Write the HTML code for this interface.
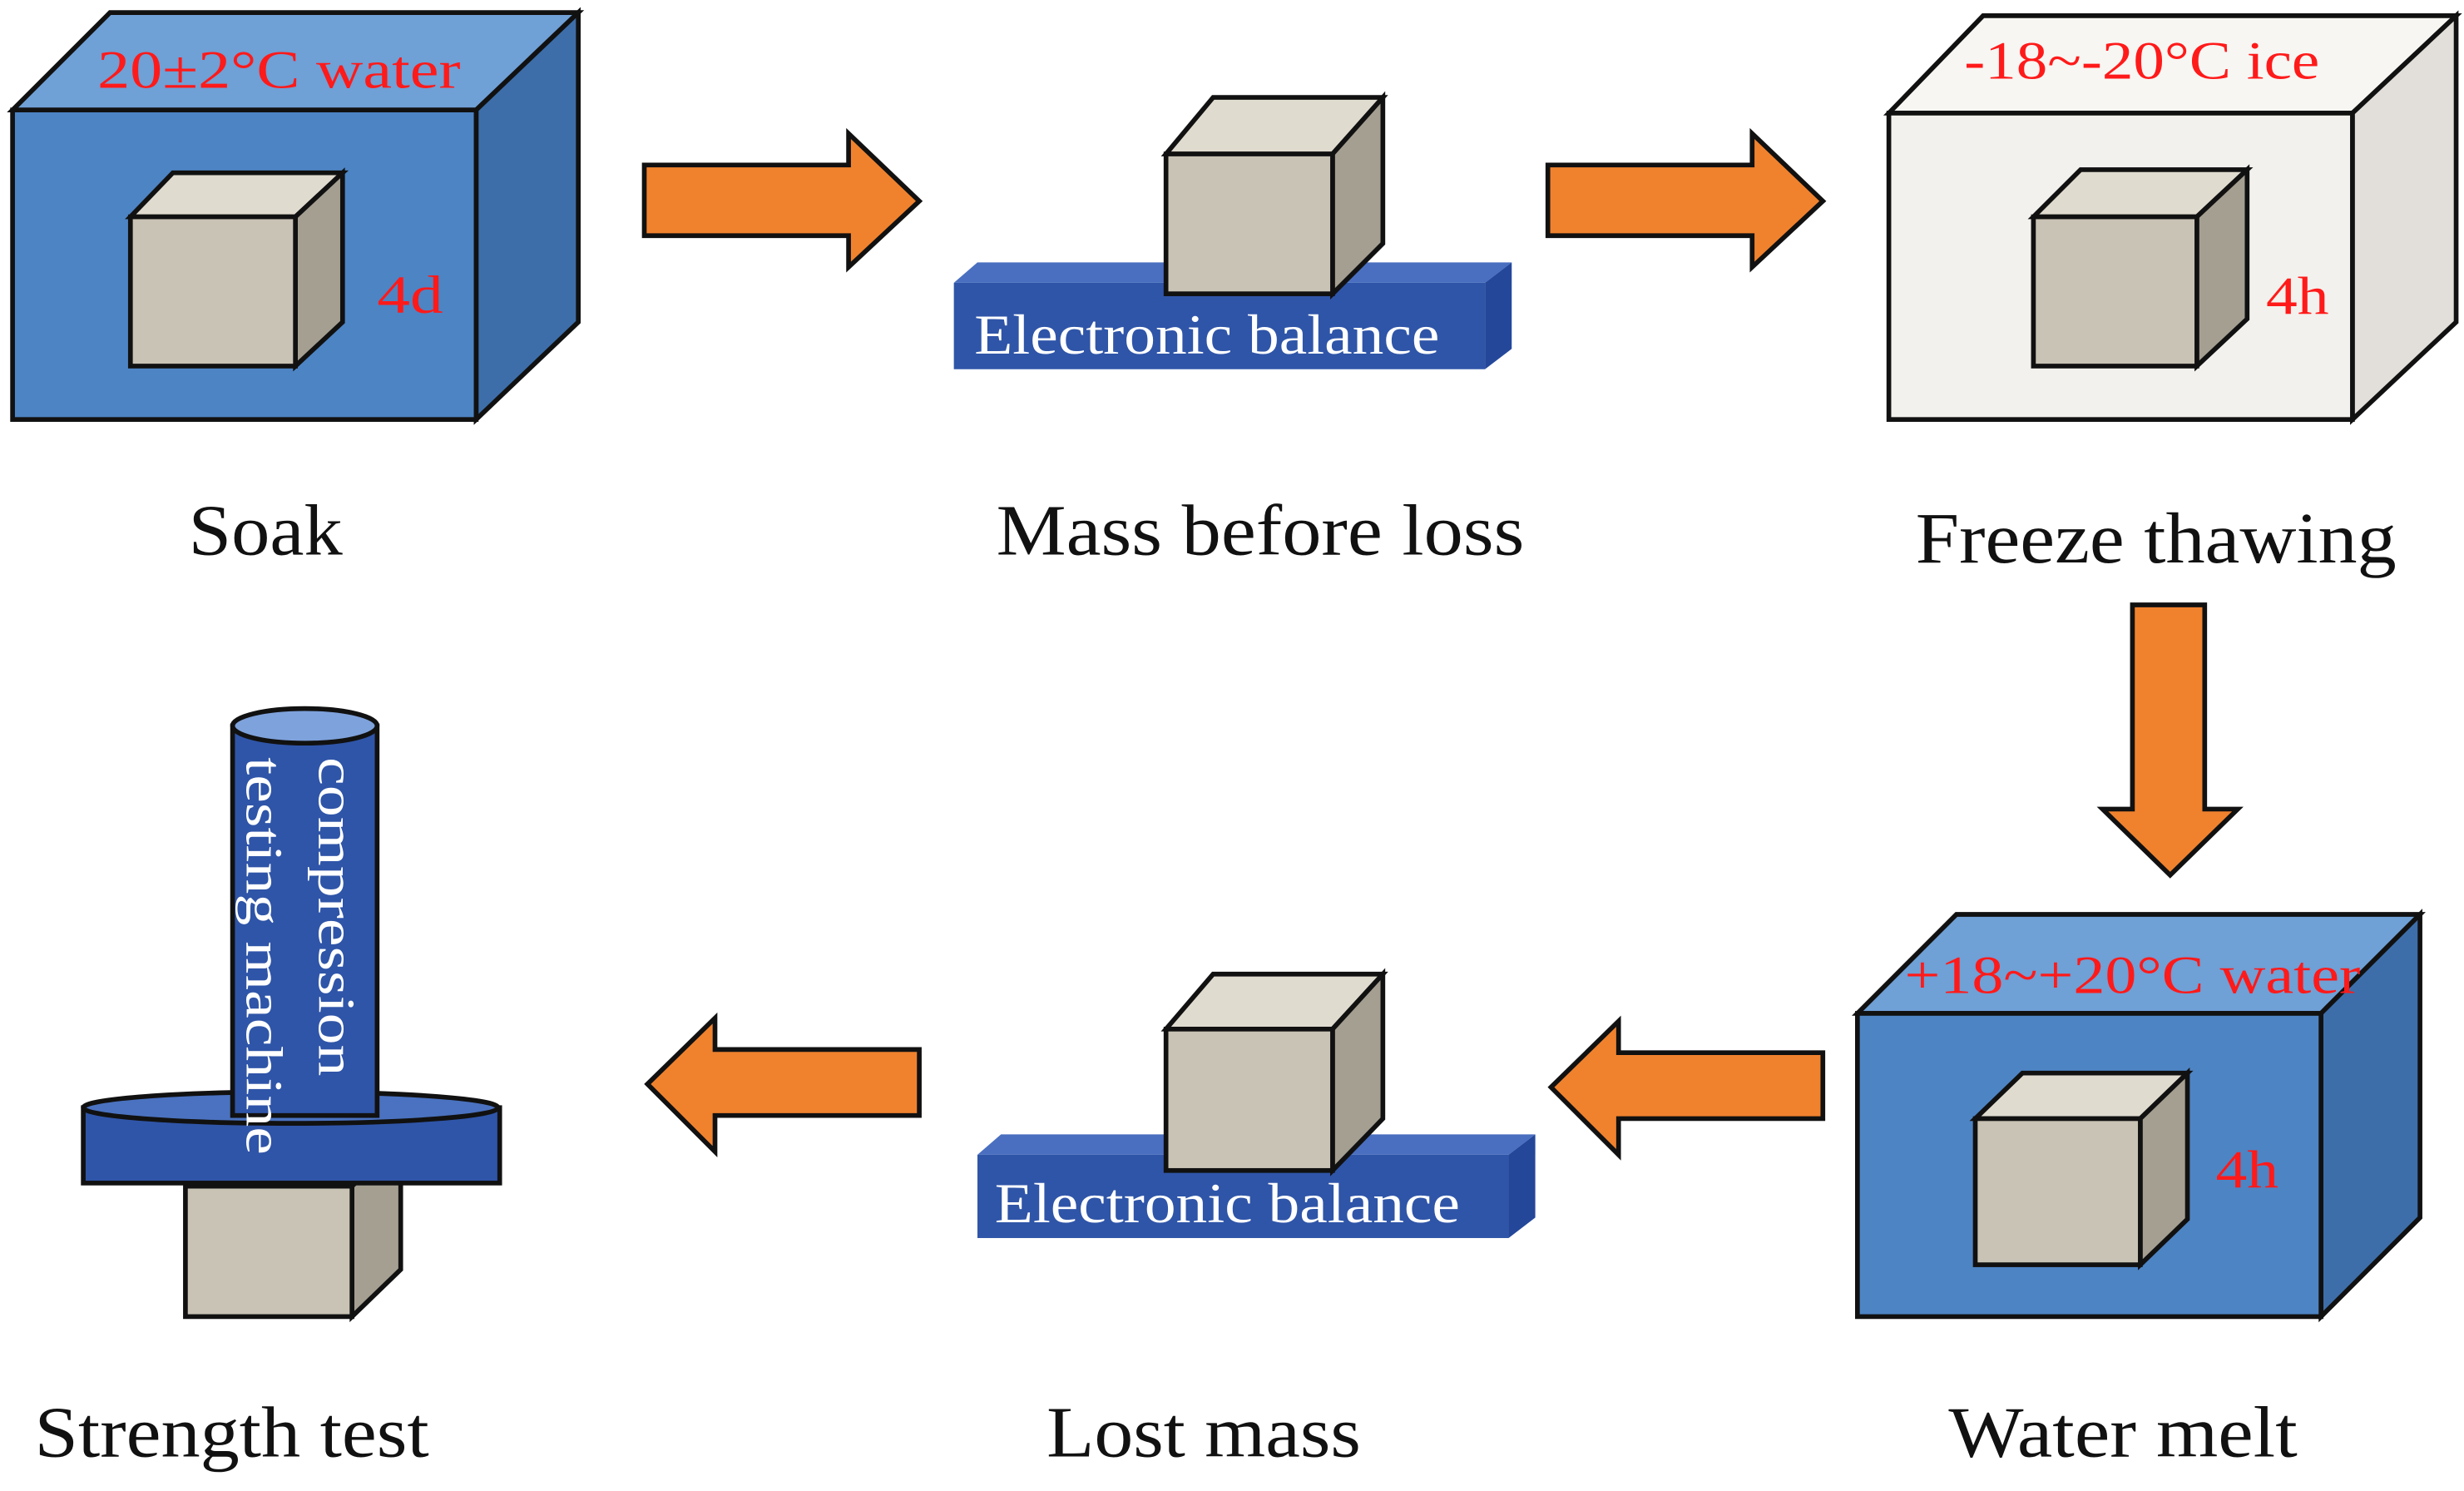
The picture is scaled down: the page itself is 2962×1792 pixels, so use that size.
<!DOCTYPE html>
<html><head><meta charset="utf-8"><style>
html,body{margin:0;padding:0;background:#fff;}
svg{display:block;}
text{font-family:"Liberation Serif",serif;}
</style></head><body>
<svg width="2962" height="1792" viewBox="0 0 1568 949" preserveAspectRatio="none" xmlns="http://www.w3.org/2000/svg">
<!-- Balances -->
<g stroke="none">
<polygon points="607,180 622,167 962,167 945,180" fill="#4a6fc0"/>
<polygon points="945,180 962,167 962,222 945,235" fill="#24479a"/>
<rect x="607" y="180" width="338" height="55" fill="#2f55a8"/>
<polygon points="622,735 637,722 977,722 960,735" fill="#4a6fc0"/>
<polygon points="960,735 977,722 977,775 960,788" fill="#24479a"/>
<rect x="622" y="735" width="338" height="53" fill="#2f55a8"/>
</g>
<g stroke="#111" stroke-width="3" stroke-linejoin="miter">
<!-- Soak box -->
<polygon points="8,70 70,8 368,8 303,70" fill="#6fa0d6"/>
<polygon points="303,70 368,8 368,205 303,267" fill="#3d6ea9"/>
<rect x="8" y="70" width="295" height="197" fill="#4d84c4"/>
<polygon points="83,138 110,110 218,110 188,138" fill="#e0dbcf"/>
<polygon points="188,138 218,110 218,205 188,233" fill="#a59f92"/>
<rect x="83" y="138" width="105" height="95" fill="#c9c3b5"/>
<!-- Freeze box -->
<polygon points="1202,72 1262,10 1563,10 1497,72" fill="#f7f6f3"/>
<polygon points="1497,72 1563,10 1563,205 1497,267" fill="#e2dfda"/>
<rect x="1202" y="72" width="295" height="195" fill="#f3f1ed"/>
<polygon points="1294,138 1324,108 1430,108 1398,138" fill="#e0dbcf"/>
<polygon points="1398,138 1430,108 1430,203 1398,233" fill="#a59f92"/>
<rect x="1294" y="138" width="104" height="95" fill="#c9c3b5"/>
<!-- Water melt box -->
<polygon points="1182,645 1245,582 1540,582 1477,645" fill="#6fa0d6"/>
<polygon points="1477,645 1540,582 1540,775 1477,838" fill="#3d6ea9"/>
<rect x="1182" y="645" width="295" height="193" fill="#4d84c4"/>
<polygon points="1257,712 1287,683 1392,683 1362,712" fill="#e0dbcf"/>
<polygon points="1362,712 1392,683 1392,776 1362,805" fill="#a59f92"/>
<rect x="1257" y="712" width="105" height="93" fill="#c9c3b5"/>
<!-- Arrows -->
<polygon points="410,105 540,105 540,85 585,128 540,170 540,150 410,150" fill="#f0822e"/>
<polygon points="985,105 1115,105 1115,85 1160,128 1115,170 1115,150 985,150" fill="#f0822e"/>
<polygon points="1357,385 1403,385 1403,515 1424,515 1381,557 1338,515 1357,515" fill="#f0822e"/>
<polygon points="1160,670 1030,670 1030,650 987,692 1030,735 1030,712 1160,712" fill="#f0822e"/>
<polygon points="585,668 455,668 455,648 412,690 455,733 455,710 585,710" fill="#f0822e"/>
<!-- Cube on balance 1 -->
<polygon points="742,98 772,62 880,62 848,98" fill="#e0dbcf"/>
<polygon points="848,98 880,62 880,155 848,187" fill="#a59f92"/>
<rect x="742" y="98" width="106" height="89" fill="#c9c3b5"/>
<!-- Cube on balance 2 -->
<polygon points="742,655 772,620 880,620 848,655" fill="#e0dbcf"/>
<polygon points="848,655 880,620 880,712 848,745" fill="#a59f92"/>
<rect x="742" y="655" width="106" height="90" fill="#c9c3b5"/>
<!-- Strength test -->
<polygon points="224,755 255,725 255,808 224,838" fill="#a59f92"/>
<rect x="118" y="755" width="106" height="83" fill="#c9c3b5"/>
<rect x="53" y="705" width="265" height="48" fill="#2f55a8"/>
<ellipse cx="185" cy="705" rx="132" ry="10" fill="#4a72c0"/>
<rect x="148" y="462" width="92" height="248" fill="#2f55a8"/>
<ellipse cx="194" cy="462" rx="46" ry="11" fill="#7ea2dc"/>
</g>
<g fill="#ff1a1a" font-size="34" lengthAdjust="spacingAndGlyphs">
<text x="62" y="56" textLength="231" lengthAdjust="spacingAndGlyphs">20±2°C water</text>
<text x="240" y="199" textLength="42" lengthAdjust="spacingAndGlyphs">4d</text>
<text x="1250" y="50" textLength="226" lengthAdjust="spacingAndGlyphs">-18~-20°C ice</text>
<text x="1442" y="200" textLength="40" lengthAdjust="spacingAndGlyphs">4h</text>
<text x="1212" y="632" textLength="290" lengthAdjust="spacingAndGlyphs">+18~+20°C water</text>
<text x="1410" y="756" textLength="40" lengthAdjust="spacingAndGlyphs">4h</text>
</g>
<g fill="#fff" font-size="36">
<text x="620" y="225" textLength="296" lengthAdjust="spacingAndGlyphs">Electronic balance</text>
<text x="633" y="778" textLength="296" lengthAdjust="spacingAndGlyphs">Electronic balance</text>
<text transform="translate(203,482) rotate(90)" font-size="33" textLength="203" lengthAdjust="spacingAndGlyphs">compression</text>
<text transform="translate(157,482) rotate(90)" font-size="33" textLength="253" lengthAdjust="spacingAndGlyphs">testing machine</text>
</g>
<g fill="#111" font-size="46">
<text x="120" y="353" textLength="98" lengthAdjust="spacingAndGlyphs">Soak</text>
<text x="634" y="353" textLength="336" lengthAdjust="spacingAndGlyphs">Mass before loss</text>
<text x="1219" y="358" textLength="306" lengthAdjust="spacingAndGlyphs">Freeze thawing</text>
<text x="22" y="927" textLength="251" lengthAdjust="spacingAndGlyphs">Strength test</text>
<text x="666" y="927" textLength="200" lengthAdjust="spacingAndGlyphs">Lost mass</text>
<text x="1240" y="927" textLength="222" lengthAdjust="spacingAndGlyphs">Water melt</text>
</g>
</svg>
</body></html>
